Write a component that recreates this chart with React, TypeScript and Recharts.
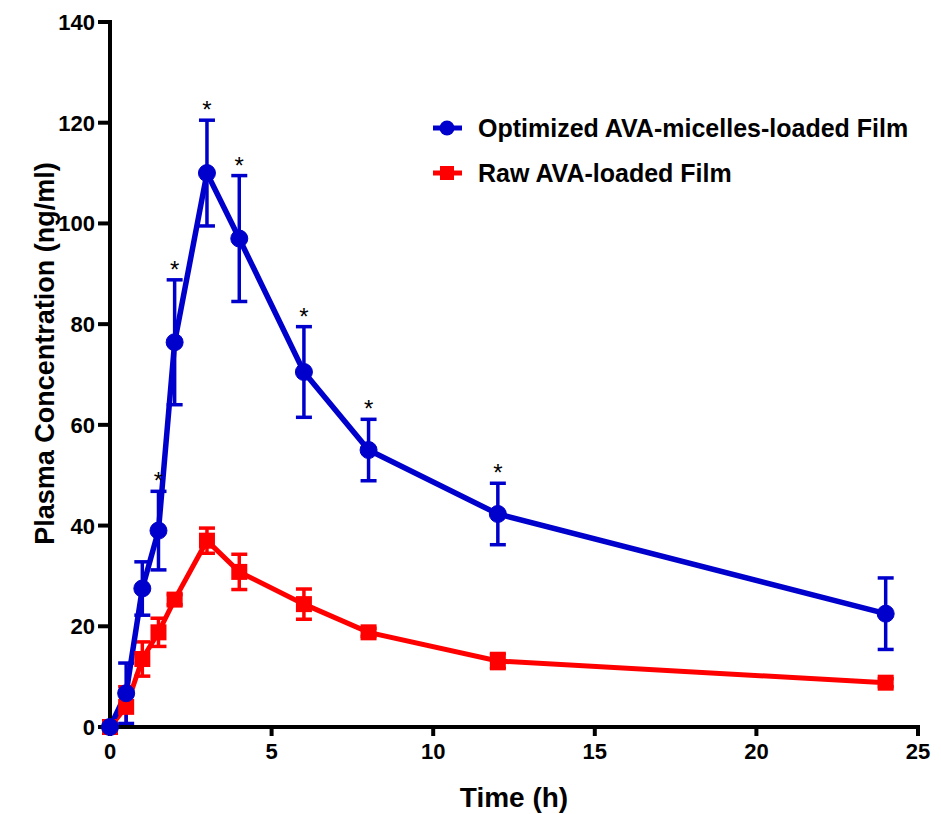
import React from "react";
import { ComposedChart, Line, XAxis, YAxis, ErrorBar, Scatter, Legend, Label } from "recharts";

// sampling times (h) and mean plasma concentration (ng/ml)
const timeH = [0, 0.5, 1, 1.5, 2, 3, 4, 6, 8, 12, 24];
const micelleFilm = [0, 6.7, 27.5, 39, 76.4, 110, 97, 70.5, 55, 42.3, 22.5];
const micelleSd = [0, 6, 5.3, 7.8, 12.4, 10.5, 12.5, 9, 6.1, 6.1, 7.1];
const rawFilm = [0, 4, 13.5, 18.8, 25.3, 37, 30.8, 24.4, 18.8, 13.1, 8.8];
const rawSd = [0, 4, 3.4, 2.8, 1, 2.5, 3.5, 3, 0.8, 1.5, 0.8];
// time points marked * (significant difference)
const significantAt = [1.5, 2, 3, 4, 6, 8, 12];

const xTicks = [0, 5, 10, 15, 20, 25];
const yTicks = [0, 20, 40, 60, 80, 100, 120, 140];

const legendItems = [
  { label: "Optimized AVA-micelles-loaded Film", color: "#0000cc", shape: "circle" },
  { label: "Raw AVA-loaded Film", color: "#ff0000", shape: "square" },
];

const BLUE = "#0000cc";
const RED = "#ff0000";
const FONT = "'Liberation Sans', Arial, Helvetica, sans-serif";

const rows = timeH.map((t, i) => ({
  time: t,
  micelle: micelleFilm[i],
  micelleSd: micelleSd[i],
  raw: rawFilm[i],
  rawSd: rawSd[i],
}));

const stars = significantAt.map((t) => {
  const i = timeH.indexOf(t);
  return { time: t, top: micelleFilm[i] + micelleSd[i] };
});

function SquareDot(props: any) {
  const { cx, cy, index } = props;
  if (cx == null || cy == null) return null;
  return <rect key={`sq-${index}`} x={cx - 8} y={cy - 8} width={16} height={16} fill={RED} />;
}

function StarMark(props: any) {
  const { cx, cy } = props;
  if (cx == null || cy == null) return null;
  return (
    <text x={cx} y={cy - 2} textAnchor="middle" fontSize={24} fill="#000" fontFamily={FONT}>
      *
    </text>
  );
}

function XTick(props: any) {
  const { x, y, payload } = props;
  return (
    <text x={x} y={y + 17} textAnchor="middle" fontSize={22} fontWeight={700} fill="#000" fontFamily={FONT}>
      {payload.value}
    </text>
  );
}

function YTick(props: any) {
  const { x, y, payload } = props;
  return (
    <text x={x} y={y + 8} textAnchor="end" fontSize={22} fontWeight={700} fill="#000" fontFamily={FONT}>
      {payload.value}
    </text>
  );
}

function LegendBox() {
  return (
    <svg width={540} height={95}>
      {legendItems.map((item, i) => {
        const y = 22 + i * 45;
        return (
          <g key={item.label}>
            <line x1={8} y1={y} x2={37} y2={y} stroke={item.color} strokeWidth={5} />
            {item.shape === "circle" ? (
              <circle cx={22} cy={y} r={7.5} fill={item.color} />
            ) : (
              <rect x={15} y={y - 7} width={14} height={14} fill={item.color} />
            )}
            <text x={53} y={y + 9} fontSize={25} fontWeight={700} fill="#000" fontFamily={FONT}>
              {item.label}
            </text>
          </g>
        );
      })}
    </svg>
  );
}

export default function App() {
  return (
    <div style={{ width: 941, height: 814, background: "#fff" }}>
      <style>{"body{margin:0}"}</style>
      <ComposedChart width={941} height={814} data={rows} margin={{ top: 22, right: 23, bottom: 7, left: 50 }}>
        <XAxis
          dataKey="time"
          type="number"
          domain={[0, 25]}
          ticks={xTicks}
          interval={0}
          height={80}
          tickSize={9}
          tickMargin={6}
          axisLine={{ stroke: "#000", strokeWidth: 4, strokeLinecap: "square" }}
          tickLine={{ stroke: "#000", strokeWidth: 4 }}
          tick={<XTick />}
        >
          <Label
            content={({ viewBox }: any) => (
              <text
                x={viewBox.x + viewBox.width / 2}
                y={viewBox.y + 80}
                textAnchor="middle"
                fontSize={28}
                fontWeight={700}
                fill="#000"
                fontFamily={FONT}
              >
                Time (h)
              </text>
            )}
          />
        </XAxis>
        <YAxis
          type="number"
          domain={[0, 140]}
          ticks={yTicks}
          interval={0}
          width={60}
          tickSize={12}
          tickMargin={3}
          axisLine={{ stroke: "#000", strokeWidth: 4, strokeLinecap: "square" }}
          tickLine={{ stroke: "#000", strokeWidth: 4 }}
          tick={<YTick />}
        >
          <Label
            content={({ viewBox }: any) => {
              const cx = viewBox.x + 4;
              const cy = viewBox.y + viewBox.height / 2 - 21;
              return (
                <text
                  transform={`translate(${cx},${cy}) rotate(-90)`}
                  textAnchor="middle"
                  fontSize={27}
                  fontWeight={700}
                  fill="#000"
                  fontFamily={FONT}
                >
                  Plasma Concentration (ng/ml)
                </text>
              );
            }}
          />
        </YAxis>
        <Legend
          layout="vertical"
          align="center"
          verticalAlign="middle"
          wrapperStyle={{ top: 106, left: 425, width: 540, height: 95 }}
          content={() => <LegendBox />}
        />
        <Line
          dataKey="raw"
          name="Raw AVA-loaded Film"
          stroke={RED}
          strokeWidth={5}
          dot={SquareDot}
          activeDot={false}
          isAnimationActive={false}
        >
          <ErrorBar dataKey="rawSd" direction="y" width={8} strokeWidth={3.5} stroke={RED} />
        </Line>
        <Line
          dataKey="micelle"
          name="Optimized AVA-micelles-loaded Film"
          stroke={BLUE}
          strokeWidth={5.5}
          dot={{ r: 8.5, fill: BLUE, stroke: BLUE, strokeWidth: 1 }}
          activeDot={false}
          isAnimationActive={false}
        >
          <ErrorBar dataKey="micelleSd" direction="y" width={8} strokeWidth={3.5} stroke={BLUE} />
        </Line>
        <Scatter data={stars} dataKey="top" shape={StarMark} legendType="none" isAnimationActive={false} />
      </ComposedChart>
    </div>
  );
}
